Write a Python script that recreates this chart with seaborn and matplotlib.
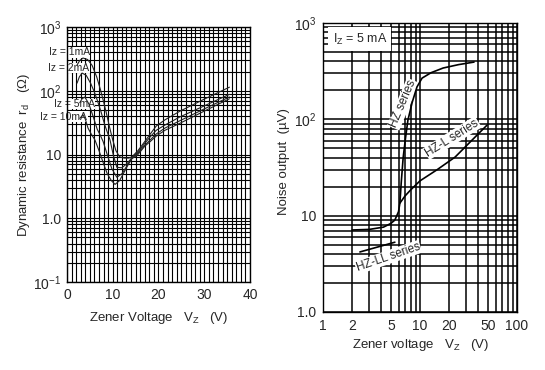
import matplotlib
matplotlib.use("Agg")
import pandas as pd
import matplotlib.pyplot as plt
import matplotlib.ticker as mticker
import seaborn as sns

# Grafico esquerdo: resistencia dinamica x tensao zener
vz_1ma = [2.2, 2.8, 3.5, 4.5, 5.5, 6.5, 7.3, 7.9, 8.6, 9.3, 10.0, 10.7, 11.5, 12.5, 13.5,
          14.2, 15.5, 17.0, 18.2, 19.5, 21.4, 24.7, 30.0, 35.5]
rd_1ma = [254, 300, 327, 310, 250, 165, 105, 72, 45, 27, 17, 11.5, 9.2, 8.8, 8.8,
          9.2, 11.5, 16, 21, 28, 35, 48, 74, 114]

vz_2ma = [2.2, 2.7, 3.3, 4.2, 5.2, 6.0, 6.6, 7.4, 8.2, 9.4, 10.1, 10.9, 12.0, 13.2,
          14.2, 15.5, 17.0, 18.2, 19.5, 21.4, 24.7, 30.0, 35.5]
rd_2ma = [132, 165, 190, 175, 130, 95, 72, 48, 30, 17, 10, 6.3, 6.2, 7.3,
          9.0, 11, 15, 19, 24, 29, 39, 58, 88]

vz_5ma = [2.8, 3.3, 3.9, 4.8, 5.8, 6.6, 7.3, 7.9, 8.8, 9.8, 10.9, 12.0, 13.2,
          14.2, 15.5, 17.0, 18.2, 19.5, 21.4, 24.7, 30.0, 35.5]
rd_5ma = [65, 75, 80, 62, 38, 25, 20, 16, 10, 6.0, 4.4, 5.0, 6.8,
          8.8, 10.5, 14, 17, 21, 26, 34, 52, 80]

vz_10ma = [2.8, 3.5, 4.0, 4.6, 5.3, 6.1, 7.0, 7.9, 8.8, 9.7, 10.5, 11.5, 12.5, 13.4,
           14.2, 15.5, 17.0, 18.2, 19.5, 21.4, 24.7, 30.0, 35.5]
rd_10ma = [37, 42, 36, 26, 21, 17, 11.5, 7.5, 5.0, 3.9, 3.4, 3.9, 5.3, 7.0,
           8.6, 10, 13.5, 16, 19.5, 24, 31, 48, 75]

rotulos_iz = ["Iz = 1mA", "Iz = 2mA", "Iz = 5mA", "Iz = 10mA"]

# Grafico direito: ruido x tensao zener
vz_hz = [2.0, 3.0, 4.2, 5.0, 5.5, 6.0, 6.2, 6.4, 6.7, 7.1, 7.5, 8.3, 9.3, 10.5, 13.0, 17.3, 25.0, 36.0]
ruido_hz = [7.1, 7.2, 7.6, 8.3, 9.0, 11, 13.5, 22, 40, 65, 98, 150, 217, 268, 305, 341, 370, 393]

vz_hzl = [6.2, 7.0, 8.0, 10.0, 15.0, 23.0, 35.0, 49.0]
ruido_hzl = [13.5, 16, 18.5, 23, 30, 40.6, 62, 87]

vz_hzll = [2.4, 5.5]
ruido_hzll = [4.2, 5.3]

# Montar tabelas longas para o seaborn
df_rd = pd.concat([
    pd.DataFrame({"vz": vz_1ma, "rd": rd_1ma, "iz": "1mA"}),
    pd.DataFrame({"vz": vz_2ma, "rd": rd_2ma, "iz": "2mA"}),
    pd.DataFrame({"vz": vz_5ma, "rd": rd_5ma, "iz": "5mA"}),
    pd.DataFrame({"vz": vz_10ma, "rd": rd_10ma, "iz": "10mA"}),
], ignore_index=True)

df_ruido = pd.concat([
    pd.DataFrame({"vz": vz_hz, "ruido": ruido_hz, "serie": "HZ"}),
    pd.DataFrame({"vz": vz_hzl, "ruido": ruido_hzl, "serie": "HZ-L"}),
    pd.DataFrame({"vz": vz_hzll, "ruido": ruido_hzll, "serie": "HZ-LL"}),
], ignore_index=True)

sns.set_style("white")
plt.rcParams["font.family"] = ["Liberation Sans", "DejaVu Sans"]
plt.rcParams["mathtext.default"] = "regular"
plt.rcParams["axes.axisbelow"] = True

fig = plt.figure(figsize=(5.45, 3.7), dpi=100)
ax1 = fig.add_axes([0.1229, 0.2378, 0.3358, 0.689])
ax2 = fig.add_axes([0.5927, 0.1568, 0.356, 0.781])

# --- esquerdo ---
sns.lineplot(data=df_rd, x="vz", y="rd", hue="iz", palette=["#222222"] * 4,
             estimator=None, sort=False, legend=False, linewidth=0.8, ax=ax1, zorder=3)
ax1.set_yscale("log")
ax1.set_xlim(0, 40)
ax1.set_ylim(0.1, 1000)
ax1.set_xticks([0, 10, 20, 30, 40])
ax1.set_xticks(range(0, 41), minor=True)
ax1.yaxis.set_major_locator(mticker.FixedLocator([0.1, 1, 10, 100, 1000]))
ax1.yaxis.set_major_formatter(mticker.FixedFormatter(["$10^{-1}$", "1.0", "10", "$10^{2}$", "$10^{3}$"]))
ax1.yaxis.set_minor_locator(mticker.LogLocator(base=10, subs=range(2, 10), numticks=20))
ax1.yaxis.set_minor_formatter(mticker.NullFormatter())
ax1.grid(which="both", color="black", linewidth=0.8)
ax1.tick_params(which="both", length=0, labelsize=10, pad=4)
ax1.set_xlabel("Zener Voltage   V$_Z$   (V)", fontsize=9.5)
ax1.set_ylabel("Dynamic resistance  r$_d$   (Ω)", fontsize=9.5)
ax1.xaxis.set_label_coords(0.5, -0.11)
ax1.yaxis.set_label_coords(-0.19, 0.5)

pos_rotulos = [(5.0, 405), (4.9, 228), (6.1, 62), (4.4, 39)]
for txt, (xv, yv) in zip(rotulos_iz, pos_rotulos):
    ax1.text(xv, yv, txt, fontsize=7.5, ha="right", va="center", zorder=2.5,
             bbox=dict(facecolor="white", edgecolor="none", pad=0.3))

# --- direito ---
sns.lineplot(data=df_ruido, x="vz", y="ruido", hue="serie", palette=["black"] * 3,
             estimator=None, sort=False, legend=False, linewidth=1.2, ax=ax2, zorder=3)
ax2.set_xscale("log")
ax2.set_yscale("log")
ax2.set_xlim(1, 100)
ax2.set_ylim(1, 1000)
ax2.xaxis.set_major_locator(mticker.FixedLocator([1, 2, 5, 10, 20, 50, 100]))
ax2.xaxis.set_major_formatter(mticker.FixedFormatter(["1", "2", "5", "10", "20", "50", "100"]))
ax2.xaxis.set_minor_locator(mticker.FixedLocator([3, 4, 6, 7, 8, 9, 30, 40, 60, 70, 80, 90]))
ax2.xaxis.set_minor_formatter(mticker.NullFormatter())
ax2.yaxis.set_major_locator(mticker.FixedLocator([1, 10, 100, 1000]))
ax2.yaxis.set_major_formatter(mticker.FixedFormatter(["1.0", "10", "$10^{2}$", "$10^{3}$"]))
ax2.yaxis.set_minor_locator(mticker.LogLocator(base=10, subs=range(2, 10), numticks=20))
ax2.yaxis.set_minor_formatter(mticker.NullFormatter())
ax2.grid(which="both", color="black", linewidth=1.1)
ax2.tick_params(which="both", length=0, labelsize=10, pad=5)
ax2.set_xlabel("Zener voltage   V$_Z$   (V)", fontsize=9.5)
ax2.set_ylabel("Noise output  (µV)", fontsize=9.5)
ax2.xaxis.set_label_coords(0.5, -0.085)
ax2.yaxis.set_label_coords(-0.168, 0.52)

caixa = dict(facecolor="white", edgecolor="none", pad=0.5)
ax2.text(2.4, 680, "I$_Z$ = 5 mA", fontsize=9, ha="center", va="center", zorder=2.5,
         bbox=dict(facecolor="white", edgecolor="none", pad=3))
ax2.text(6.7, 144, "HZ series", fontsize=8.5, rotation=67, ha="center", va="center",
         zorder=2.5, bbox=caixa)
ax2.text(21.4, 64, "HZ-L series", fontsize=8.5, rotation=32, ha="center", va="center",
         zorder=2.5, bbox=caixa)
ax2.text(4.7, 3.7, "HZ-LL series", fontsize=8.5, rotation=19, ha="center", va="center",
         zorder=2.5, bbox=caixa)

for ax in (ax1, ax2):
    for sp in ax.spines.values():
        sp.set_color("black")
        sp.set_linewidth(1.0)

plt.savefig("out.png", dpi=100)
plt.close()
